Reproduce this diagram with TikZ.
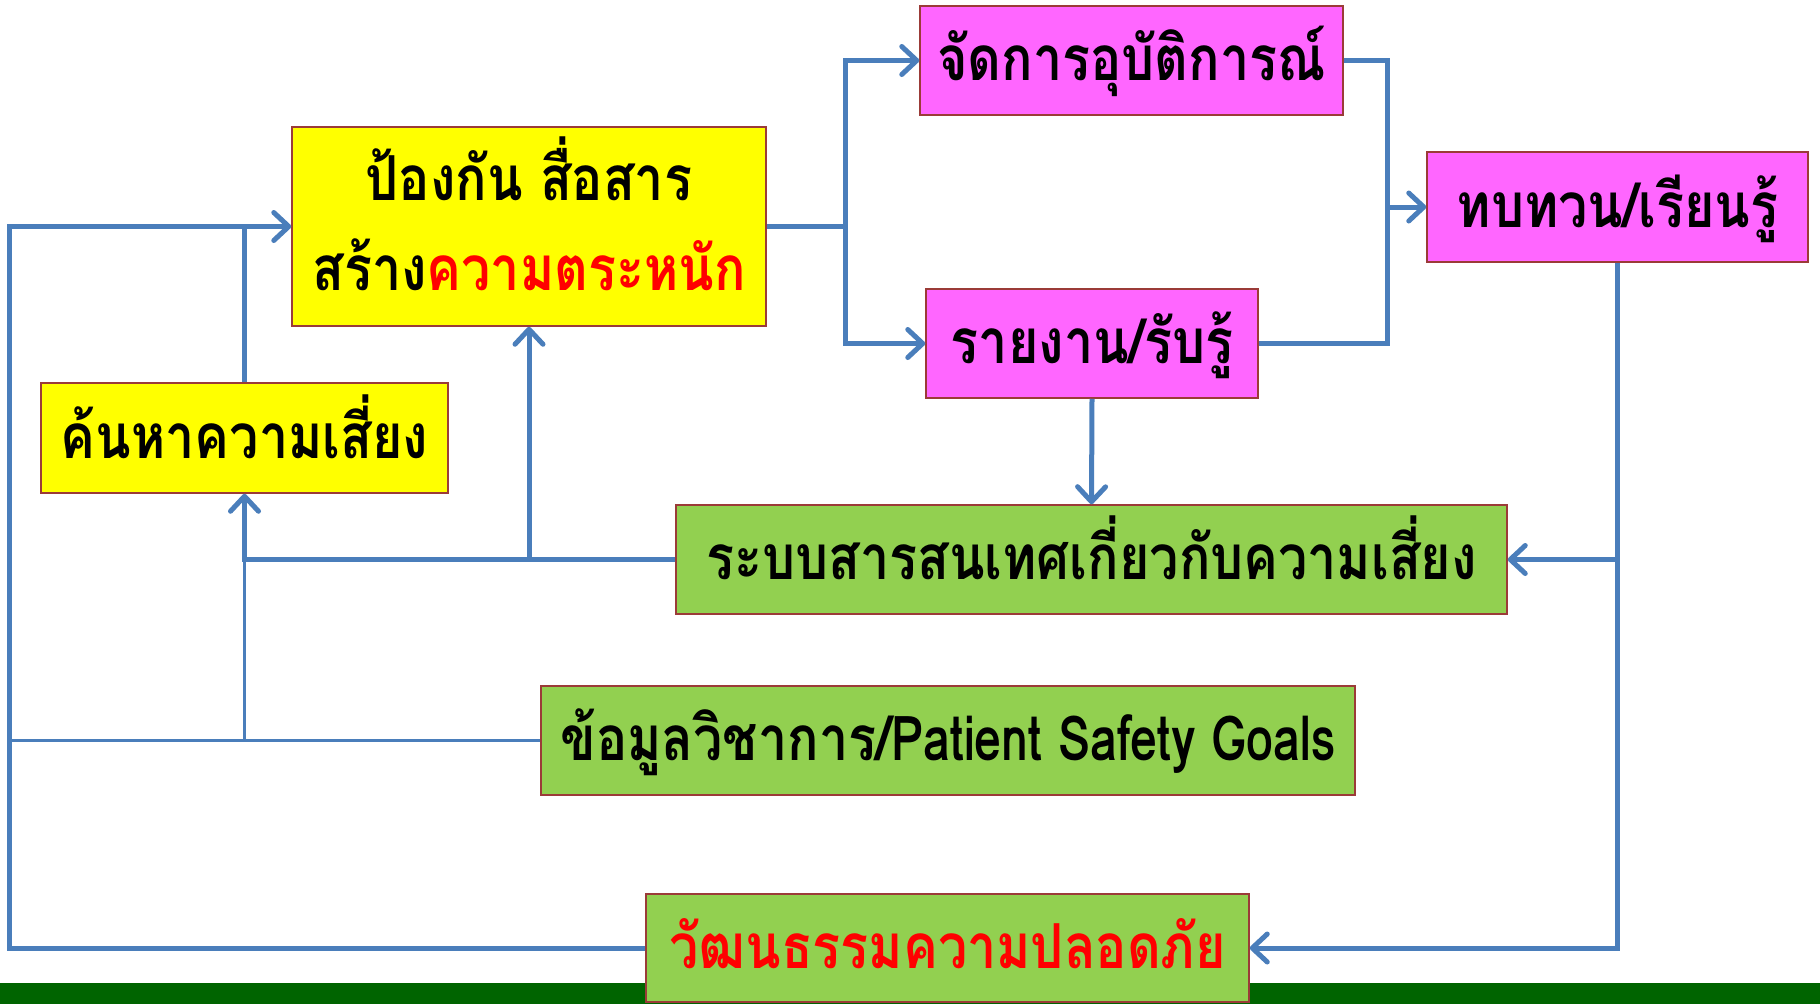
\documentclass[tikz,border=0pt]{standalone}
\usepackage{fontspec}
\usepackage{xcolor}
\usepackage{tikz}
\usetikzlibrary{arrows.meta}
\newfontfamily\thaifont[Script=Thai,FakeStretch=0.84]{Loma}
\newfontfamily\thaicond[Script=Thai,FakeStretch=0.78]{Loma}
\definecolor{linkblue}{HTML}{4A7EBB}
\definecolor{boxyellow}{HTML}{FFFF00}
\definecolor{boxpink}{HTML}{FF66FF}
\definecolor{boxgreen}{HTML}{92D050}
\definecolor{boxrim}{HTML}{9B3B38}
\definecolor{bargreen}{HTML}{006400}
\definecolor{textred}{HTML}{FF0000}

\begin{document}
\begin{tikzpicture}[x=1pt,y=-1pt,
    box/.style={draw=boxrim,line width=1.5pt,inner sep=0pt,align=center,
      text height=40pt,text depth=0pt,
      font=\thaifont\bfseries\fontsize{62}{90}\selectfont},
    ybox/.style={box,fill=boxyellow},
    pbox/.style={box,fill=boxpink},
    gbox/.style={box,fill=boxgreen},
    link/.style={draw=linkblue,line width=5pt},
    thinlink/.style={draw=linkblue,line width=2.5pt},
    >={Straight Barb[length=15pt,width=28pt,round]}]
   \fill[white] (0,0) rectangle (1820,1004);
   \useasboundingbox (0,0) rectangle (1820,1004);
   \fill[bargreen] (0,983) rectangle (1820,1004);

   \draw (529,226.5) node[ybox,minimum width=474pt,minimum height=199pt,text height=128pt] (pongkan) {ป้องกัน สื่อสาร\\สร้าง{\color{textred}ความตระหนัก}};
   \draw (1131.5,60.5) node[pbox,minimum width=423pt,minimum height=109pt] (chatkan) {จัดการอุบัติการณ์};
   \draw (1092,343.5) node[pbox,minimum width=332pt,minimum height=109pt] (raingan) {รายงาน/รับรู้};
   \draw (1617.5,207) node[pbox,minimum width=381pt,minimum height=110pt] (thopthuan) {ทบทวน/เรียนรู้};
   \draw (244.5,438) node[ybox,minimum width=407pt,minimum height=110pt] (khonha) {ค้นหาความเสี่ยง};
   \draw (1091.5,559.5) node[gbox,minimum width=831pt,minimum height=109pt] (rabop) {ระบบสารสนเทศเกี่ยวกับความเสี่ยง};
   \draw (948,740.5) node[gbox,minimum width=814pt,minimum height=109pt] (khomun) {ข้อมูลวิชาการ/{\thaicond Patient Safety Goals}};
   \draw (947.5,948) node[gbox,minimum width=603pt,minimum height=108pt,text=textred] (watthanatham) {วัฒนธรรมความปลอดภัย};

   \coordinate (railtop) at (9,226.5);
   \coordinate (fork) at (845,226.5);
   \coordinate (merge) at (1387,207);

   \path[link,->] (watthanatham.west) -| (railtop) -- (pongkan.west);
   \path[link] (khonha.north) -- (khonha.north |- pongkan.west);
   \path[thinlink] (khomun.west) -- (khomun.west -| railtop);
   \path[thinlink] (khomun.west -| khonha.south) -- (rabop.west -| khonha.south);
   \path[link,->] (rabop.west) -| (khonha.south);
   \path[link,->] (rabop.west -| pongkan.south) -- (pongkan.south);
   \path[link,->] (pongkan.east) -- (fork) |- (chatkan.west);
   \path[link,->] (fork) |- (raingan.west);
   \path[link,->] (chatkan.east) -| (merge) -- (thopthuan.west);
   \path[link] (raingan.east) -| (merge);
   \path[link,->] (raingan.south) -- (rabop.north);
   \path[link,->] (thopthuan.south) |- (watthanatham.east);
   \path[link,->] (thopthuan.south |- rabop.east) -- (rabop.east);
\end{tikzpicture}
\end{document}
